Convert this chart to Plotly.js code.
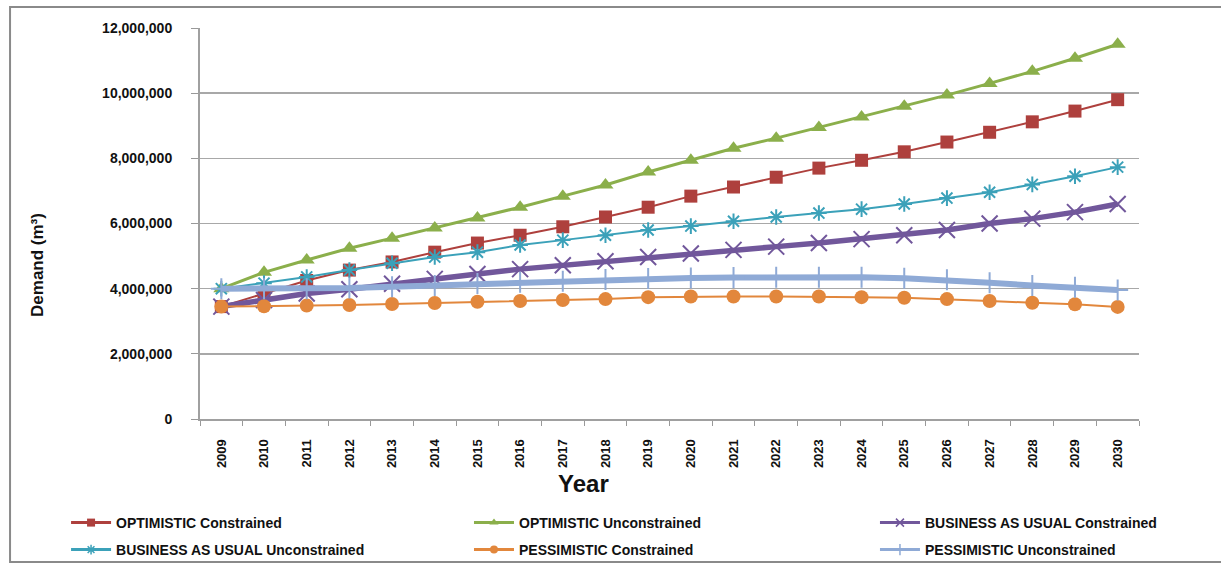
<!DOCTYPE html>
<html>
<head>
<meta charset="utf-8">
<script src="https://cdn.plot.ly/plotly-3.0.1.min.js"></script>
<style>html,body{margin:0;padding:0;background:#fff;}#chart{width:1221px;height:564px;}</style>
</head>
<body>
<div id="chart"></div>
<script>
const years = ["2009","2010","2011","2012","2013","2014","2015","2016","2017","2018","2019","2020","2021","2022","2023","2024","2025","2026","2027","2028","2029","2030"];
const optimisticConstrained = [3450000,3860000,4250000,4570000,4820000,5120000,5400000,5640000,5900000,6200000,6500000,6840000,7120000,7420000,7700000,7940000,8200000,8500000,8800000,9120000,9450000,9800000];
const optimisticUnconstrained = [4000000,4500000,4880000,5240000,5550000,5860000,6170000,6500000,6840000,7180000,7580000,7940000,8310000,8620000,8950000,9270000,9600000,9940000,10300000,10670000,11070000,11500000];
const busConstrained = [3450000,3650000,3850000,3980000,4150000,4300000,4450000,4600000,4720000,4840000,4970000,5080000,5190000,5290000,5400000,5520000,5640000,5800000,6000000,6150000,6350000,6600000];
const busUnconstrained = [4000000,4170000,4360000,4570000,4780000,4970000,5120000,5340000,5490000,5640000,5800000,5920000,6070000,6200000,6320000,6440000,6600000,6780000,6960000,7200000,7450000,7730000];
const pessConstrained = [3450000,3460000,3480000,3500000,3530000,3560000,3600000,3620000,3650000,3680000,3740000,3760000,3760000,3760000,3760000,3740000,3720000,3680000,3620000,3570000,3520000,3440000];
const pessUnconstrained = [4000000,4000000,4000000,4020000,4060000,4100000,4160000,4200000,4230000,4280000,4310000,4330000,4340000,4350000,4350000,4350000,4320000,4270000,4180000,4100000,4040000,3960000];
const yTicks = [0,2000000,4000000,6000000,8000000,10000000,12000000];
const seriesNames = ["OPTIMISTIC Constrained","OPTIMISTIC Unconstrained","BUSINESS AS USUAL Constrained","BUSINESS AS USUAL Unconstrained","PESSIMISTIC Constrained","PESSIMISTIC Unconstrained"];

const F = "Arial, 'Liberation Sans', sans-serif";

const styles = [
  {color: "#AE403D", lw: 2, symbol: "square", size: 13},
  {color: "#8BAF4B", lw: 3, symbol: "triangle-up", size: 14},
  {color: "#71579B", lw: 5.5, symbol: "x-thin-open", size: 16, mline: 2},
  {color: "#3BA1B9", lw: 2, symbol: "asterisk-open", size: 13, mline: 2},
  {color: "#E2873C", lw: 2, symbol: "circle", size: 14},
  {color: "#8FAAD6", lw: 6, symbol: "cross-thin-open", size: 15, mline: 2}
];
const values = [optimisticConstrained, optimisticUnconstrained, busConstrained, busUnconstrained, pessConstrained, pessUnconstrained];
const legendIds = ["legend","legend2","legend3","legend4","legend5","legend6"];

const traces = [];
values.forEach((v, i) => {
  const s = styles[i];
  const m = {symbol: s.symbol, size: s.size, color: s.color};
  if (s.mline) m.line = {color: s.color, width: s.mline};
  traces.push({x: years, y: v, name: seriesNames[i], type: "scatter", mode: "lines+markers",
    line: {color: s.color, width: s.lw}, marker: m, showlegend: false, hoverinfo: "skip"});
});
// legend swatches only (a single empty point, nothing drawn in the plot)
values.forEach((v, i) => {
  const s = styles[i];
  const m = {symbol: s.symbol, size: 8, color: s.color};
  if (s.mline) m.line = {color: s.color, width: 1.5};
  traces.push({x: [years[0]], y: [null], name: seriesNames[i], type: "scatter", mode: "lines+markers",
    line: {color: s.color, width: 3}, marker: m, showlegend: true, legend: legendIds[i]});
});

function leg(x, y) {
  return {orientation: "v", xref: "container", yref: "container", x: x, y: y, xanchor: "left", yanchor: "middle",
    font: {family: F, size: 14, color: "#111", weight: "bold"}, bgcolor: "rgba(0,0,0,0)", itemwidth: 40,
    itemsizing: "trace"};
}
const colX = [0.0541, 0.3841, 0.7166];
const rowY = [0.0727, 0.0248];

const layout = {
  width: 1221, height: 564,
  margin: {l: 200, r: 82, t: 28, b: 145, autoexpand: false},
  paper_bgcolor: "#fff", plot_bgcolor: "#fff",
  showlegend: true,
  font: {family: F, color: "#111"},
  xaxis: {type: "category", range: [-0.5, 21.5], tickangle: -90, tickson: "boundaries", ticks: "outside", ticklen: 5, tickcolor: "#999",
    showline: true, linecolor: "#a0a0a0", linewidth: 2, showgrid: false,
    tickfont: {family: F, size: 13, color: "#111", weight: "bold"}, ticklabelstandoff: 13},
  yaxis: {range: [0, 12000000], tickvals: yTicks, tickformat: ",d", ticks: "outside", ticklen: 7, tickcolor: "#999",
    showline: true, linecolor: "#a0a0a0", linewidth: 2, showgrid: true, gridcolor: "#a8a8a8", gridwidth: 1.5,
    zeroline: false, tickfont: {family: F, size: 14, color: "#111", weight: "bold"}, ticklabelstandoff: 16},
  legend: leg(colX[0], rowY[0]),
  legend2: leg(colX[1], rowY[0]),
  legend3: leg(colX[2], rowY[0]),
  legend4: leg(colX[0], rowY[1]),
  legend5: leg(colX[1], rowY[1]),
  legend6: leg(colX[2], rowY[1]),
  annotations: [
    {text: "Demand (m³)", textangle: -90, xref: "paper", yref: "paper", x: -0.1725, y: 0.394,
      xanchor: "center", yanchor: "middle",
      showarrow: false, font: {family: F, size: 17, color: "#111", weight: "bold"}},
    {text: "Year", xref: "paper", yref: "paper", x: 0.408, y: -0.165, xanchor: "center", yanchor: "middle", showarrow: false,
      font: {family: F, size: 24, color: "#111", weight: "bold"}}
  ],
  shapes: [
    {type: "rect", xref: "paper", yref: "paper", x0: -0.2023, x1: 1.095, y0: -0.3657, y1: 1.0537,
      line: {color: "#8a8a8a", width: 2}, fillcolor: "rgba(0,0,0,0)", layer: "below"}
  ]
};

Plotly.newPlot("chart", traces, layout, {displayModeBar: false, staticPlot: true});
</script>
</body>
</html>
